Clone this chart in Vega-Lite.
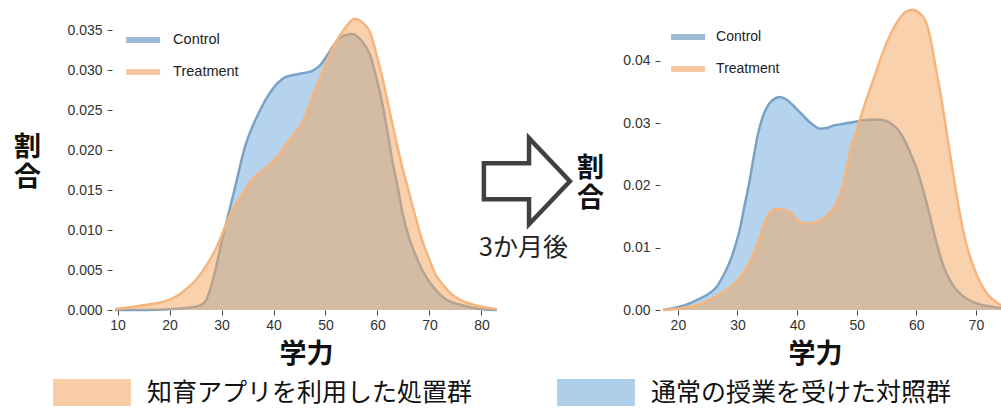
{
  "$schema": "https://vega.github.io/schema/vega-lite/v6.json",
  "background": "white",
  "padding": {"left": 13, "top": 4, "right": 0, "bottom": 0},
  "autosize": {"type": "pad"},
  "bounds": "flush",
  "spacing": 166,
  "config": {
    "view": {"stroke": null},
    "font": "Liberation Sans",
    "axis": {
      "domain": false, "grid": false,
      "labelFont": "Liberation Sans", "labelFontSize": 14, "labelColor": "#333",
      "tickColor": "#444", "tickSize": 5, "tickWidth": 1,
      "titleFont": "Noto Sans CJK JP", "titleFontSize": 27, "titleFontWeight": "bold", "titleColor": "#111"
    }
  },
  "datasets": {
    "before": [
      {"group": "Control", "x": 9.5, "d": 0}, {"group": "Control", "x": 15, "d": 0}, {"group": "Control", "x": 20, "d": 0.0001},
      {"group": "Control", "x": 22, "d": 0.0002}, {"group": "Control", "x": 24, "d": 0.0003}, {"group": "Control", "x": 26, "d": 0.0006},
      {"group": "Control", "x": 27, "d": 0.0012}, {"group": "Control", "x": 28, "d": 0.003}, {"group": "Control", "x": 29, "d": 0.0055},
      {"group": "Control", "x": 30, "d": 0.0085}, {"group": "Control", "x": 30.8, "d": 0.0106}, {"group": "Control", "x": 32.7, "d": 0.0156},
      {"group": "Control", "x": 34.6, "d": 0.0206}, {"group": "Control", "x": 36, "d": 0.023}, {"group": "Control", "x": 37.3, "d": 0.0248},
      {"group": "Control", "x": 38.5, "d": 0.0263}, {"group": "Control", "x": 39.8, "d": 0.0276}, {"group": "Control", "x": 41, "d": 0.0285},
      {"group": "Control", "x": 42.3, "d": 0.0291}, {"group": "Control", "x": 44, "d": 0.0294}, {"group": "Control", "x": 45.6, "d": 0.0296},
      {"group": "Control", "x": 47.5, "d": 0.0299}, {"group": "Control", "x": 49, "d": 0.0306}, {"group": "Control", "x": 50.5, "d": 0.032},
      {"group": "Control", "x": 51.9, "d": 0.0334}, {"group": "Control", "x": 53.5, "d": 0.0343}, {"group": "Control", "x": 55.2, "d": 0.0345},
      {"group": "Control", "x": 57, "d": 0.0336}, {"group": "Control", "x": 58.5, "d": 0.032}, {"group": "Control", "x": 60, "d": 0.0285},
      {"group": "Control", "x": 61, "d": 0.0256}, {"group": "Control", "x": 62, "d": 0.022}, {"group": "Control", "x": 62.9, "d": 0.0185},
      {"group": "Control", "x": 64, "d": 0.015}, {"group": "Control", "x": 64.8, "d": 0.0122}, {"group": "Control", "x": 66, "d": 0.0092},
      {"group": "Control", "x": 67.3, "d": 0.0069}, {"group": "Control", "x": 68.6, "d": 0.005}, {"group": "Control", "x": 70, "d": 0.0035},
      {"group": "Control", "x": 71.5, "d": 0.0023}, {"group": "Control", "x": 73, "d": 0.0014}, {"group": "Control", "x": 76.3, "d": 0.0006},
      {"group": "Control", "x": 79, "d": 0.0002}, {"group": "Control", "x": 83, "d": 0},
      {"group": "Treatment", "x": 9.5, "d": 0.0001}, {"group": "Treatment", "x": 12, "d": 0.0003}, {"group": "Treatment", "x": 15, "d": 0.0006},
      {"group": "Treatment", "x": 18, "d": 0.0009}, {"group": "Treatment", "x": 20, "d": 0.0013}, {"group": "Treatment", "x": 22, "d": 0.002},
      {"group": "Treatment", "x": 23.5, "d": 0.0028}, {"group": "Treatment", "x": 25, "d": 0.0037}, {"group": "Treatment", "x": 26.3, "d": 0.0048},
      {"group": "Treatment", "x": 27.5, "d": 0.006}, {"group": "Treatment", "x": 28.8, "d": 0.0075}, {"group": "Treatment", "x": 29.8, "d": 0.009},
      {"group": "Treatment", "x": 30.8, "d": 0.0106}, {"group": "Treatment", "x": 32, "d": 0.0124}, {"group": "Treatment", "x": 33.4, "d": 0.0139},
      {"group": "Treatment", "x": 34.7, "d": 0.0152}, {"group": "Treatment", "x": 36, "d": 0.0164}, {"group": "Treatment", "x": 37.6, "d": 0.0173},
      {"group": "Treatment", "x": 39.2, "d": 0.0181}, {"group": "Treatment", "x": 40.8, "d": 0.0192}, {"group": "Treatment", "x": 42.3, "d": 0.0206},
      {"group": "Treatment", "x": 44, "d": 0.022}, {"group": "Treatment", "x": 45.6, "d": 0.0235}, {"group": "Treatment", "x": 46.6, "d": 0.025},
      {"group": "Treatment", "x": 47.5, "d": 0.0268}, {"group": "Treatment", "x": 49, "d": 0.029}, {"group": "Treatment", "x": 50.5, "d": 0.0315},
      {"group": "Treatment", "x": 51.9, "d": 0.0334}, {"group": "Treatment", "x": 53.5, "d": 0.035}, {"group": "Treatment", "x": 55.6, "d": 0.0364},
      {"group": "Treatment", "x": 57, "d": 0.036}, {"group": "Treatment", "x": 58.5, "d": 0.0348}, {"group": "Treatment", "x": 59.8, "d": 0.032},
      {"group": "Treatment", "x": 61, "d": 0.0289}, {"group": "Treatment", "x": 62.3, "d": 0.025}, {"group": "Treatment", "x": 63.5, "d": 0.0214},
      {"group": "Treatment", "x": 64.8, "d": 0.0178}, {"group": "Treatment", "x": 66.2, "d": 0.0144}, {"group": "Treatment", "x": 67.5, "d": 0.0112},
      {"group": "Treatment", "x": 68.7, "d": 0.0085}, {"group": "Treatment", "x": 70, "d": 0.0063}, {"group": "Treatment", "x": 71.2, "d": 0.0044},
      {"group": "Treatment", "x": 72.8, "d": 0.003}, {"group": "Treatment", "x": 74.4, "d": 0.0019}, {"group": "Treatment", "x": 76.5, "d": 0.0011},
      {"group": "Treatment", "x": 78.8, "d": 0.0006}, {"group": "Treatment", "x": 81, "d": 0.0003}, {"group": "Treatment", "x": 83, "d": 0.0001}
    ],
    "after": [
      {"group": "Control", "x": 17.5, "d": 0}, {"group": "Control", "x": 19.2, "d": 0.0003}, {"group": "Control", "x": 21.5, "d": 0.0009},
      {"group": "Control", "x": 23.6, "d": 0.0018}, {"group": "Control", "x": 25, "d": 0.0025}, {"group": "Control", "x": 26.4, "d": 0.0036},
      {"group": "Control", "x": 27.6, "d": 0.0055}, {"group": "Control", "x": 28.7, "d": 0.0077}, {"group": "Control", "x": 29.6, "d": 0.0102},
      {"group": "Control", "x": 30.4, "d": 0.013}, {"group": "Control", "x": 31.2, "d": 0.0168}, {"group": "Control", "x": 32, "d": 0.0206},
      {"group": "Control", "x": 32.7, "d": 0.0245}, {"group": "Control", "x": 33.4, "d": 0.0281}, {"group": "Control", "x": 34.1, "d": 0.0306},
      {"group": "Control", "x": 34.8, "d": 0.0323}, {"group": "Control", "x": 35.9, "d": 0.0337}, {"group": "Control", "x": 37.1, "d": 0.0342},
      {"group": "Control", "x": 38.2, "d": 0.0338}, {"group": "Control", "x": 39.3, "d": 0.0329}, {"group": "Control", "x": 40.4, "d": 0.0318},
      {"group": "Control", "x": 41.5, "d": 0.0307}, {"group": "Control", "x": 42.7, "d": 0.0297}, {"group": "Control", "x": 43.8, "d": 0.0291},
      {"group": "Control", "x": 45, "d": 0.0292}, {"group": "Control", "x": 46, "d": 0.0296}, {"group": "Control", "x": 47.2, "d": 0.0298},
      {"group": "Control", "x": 49, "d": 0.0301}, {"group": "Control", "x": 51.5, "d": 0.0305}, {"group": "Control", "x": 53, "d": 0.0306},
      {"group": "Control", "x": 54.4, "d": 0.0305}, {"group": "Control", "x": 55.8, "d": 0.0299}, {"group": "Control", "x": 57.2, "d": 0.0286},
      {"group": "Control", "x": 58.3, "d": 0.0267}, {"group": "Control", "x": 59.4, "d": 0.0243}, {"group": "Control", "x": 60.3, "d": 0.022},
      {"group": "Control", "x": 61.1, "d": 0.0194}, {"group": "Control", "x": 62, "d": 0.0162}, {"group": "Control", "x": 62.8, "d": 0.013},
      {"group": "Control", "x": 63.6, "d": 0.0101}, {"group": "Control", "x": 64.5, "d": 0.0072}, {"group": "Control", "x": 65.5, "d": 0.005},
      {"group": "Control", "x": 66.6, "d": 0.0034}, {"group": "Control", "x": 68, "d": 0.0021}, {"group": "Control", "x": 69.5, "d": 0.0013},
      {"group": "Control", "x": 71, "d": 0.0008}, {"group": "Control", "x": 72.9, "d": 0.0005}, {"group": "Control", "x": 74.5, "d": 0.0003},
      {"group": "Treatment", "x": 17.5, "d": 0}, {"group": "Treatment", "x": 20, "d": 0.0002}, {"group": "Treatment", "x": 22.5, "d": 0.0006},
      {"group": "Treatment", "x": 24.7, "d": 0.0013}, {"group": "Treatment", "x": 27, "d": 0.0025}, {"group": "Treatment", "x": 29.2, "d": 0.004},
      {"group": "Treatment", "x": 31, "d": 0.006}, {"group": "Treatment", "x": 32.6, "d": 0.0088}, {"group": "Treatment", "x": 33.8, "d": 0.0118},
      {"group": "Treatment", "x": 34.8, "d": 0.0146}, {"group": "Treatment", "x": 35.6, "d": 0.0158}, {"group": "Treatment", "x": 36.4, "d": 0.0162},
      {"group": "Treatment", "x": 37.6, "d": 0.0161}, {"group": "Treatment", "x": 38.8, "d": 0.0157}, {"group": "Treatment", "x": 39.7, "d": 0.0148},
      {"group": "Treatment", "x": 40.5, "d": 0.0141}, {"group": "Treatment", "x": 41.8, "d": 0.0139}, {"group": "Treatment", "x": 43.2, "d": 0.0141},
      {"group": "Treatment", "x": 44.6, "d": 0.0148}, {"group": "Treatment", "x": 46, "d": 0.0162}, {"group": "Treatment", "x": 47, "d": 0.018},
      {"group": "Treatment", "x": 47.7, "d": 0.02}, {"group": "Treatment", "x": 48.9, "d": 0.0254}, {"group": "Treatment", "x": 50.2, "d": 0.0295},
      {"group": "Treatment", "x": 51.5, "d": 0.0334}, {"group": "Treatment", "x": 53, "d": 0.0375}, {"group": "Treatment", "x": 54.4, "d": 0.0414},
      {"group": "Treatment", "x": 55.8, "d": 0.0445}, {"group": "Treatment", "x": 57.2, "d": 0.0468}, {"group": "Treatment", "x": 58.3, "d": 0.0479},
      {"group": "Treatment", "x": 59.4, "d": 0.0482}, {"group": "Treatment", "x": 60.5, "d": 0.0477}, {"group": "Treatment", "x": 61.6, "d": 0.0463},
      {"group": "Treatment", "x": 62.5, "d": 0.043}, {"group": "Treatment", "x": 63.3, "d": 0.0387}, {"group": "Treatment", "x": 64.2, "d": 0.034},
      {"group": "Treatment", "x": 65, "d": 0.0291}, {"group": "Treatment", "x": 65.8, "d": 0.0242}, {"group": "Treatment", "x": 66.6, "d": 0.0194},
      {"group": "Treatment", "x": 67.4, "d": 0.015}, {"group": "Treatment", "x": 68.3, "d": 0.0109}, {"group": "Treatment", "x": 69.5, "d": 0.0072},
      {"group": "Treatment", "x": 70.7, "d": 0.0045}, {"group": "Treatment", "x": 72, "d": 0.0025}, {"group": "Treatment", "x": 73.4, "d": 0.0013},
      {"group": "Treatment", "x": 74.5, "d": 0.0006}
    ]
  },
  "resolve": {"scale": {"fill": "independent", "stroke": "independent"}},
  "hconcat": [
    {
      "width": 382, "height": 304,
      "data": {"name": "before"},
      "encoding": {
        "x": {"field": "x", "type": "quantitative",
          "scale": {"domain": [9.5, 83], "nice": false, "zero": false},
          "axis": {"values": [10, 20, 30, 40, 50, 60, 70, 80], "format": "d", "title": "学力",
            "titleX": 191, "titleY": 44, "titleAlign": "center", "titleBaseline": "middle", "labelPadding": 3}},
        "y": {"field": "d", "type": "quantitative",
          "scale": {"domain": [0, 0.038], "nice": false, "zero": true},
          "axis": {"values": [0, 0.005, 0.01, 0.015, 0.02, 0.025, 0.03, 0.035], "format": ".3f",
            "title": ["割", "合"], "titleAngle": 0, "titleX": -85, "titleY": 141, "titleAlign": "center",
            "titleBaseline": "middle", "titleLineHeight": 30, "offset": 3, "labelPadding": 5}}
      },
      "layer": [
        {"transform": [{"filter": "datum.group === 'Control'"}],
         "mark": {"type": "area", "interpolate": "monotone", "fillOpacity": 0.5},
         "encoding": {"fill": {"field": "group", "type": "nominal",
           "scale": {"domain": ["Treatment", "Control"], "range": ["#f3a35b", "#6ba7d9"]},
           "legend": {"orient": "none", "legendX": -50, "legendY": 359.5, "title": null, "direction": "horizontal",
             "symbolType": "M-1.44,-0.5L1.44,-0.5L1.44,0.5L-1.44,0.5Z", "symbolSize": 2916, "symbolOpacity": 0.5,
             "symbolStrokeWidth": 0, "labelFont": "Noto Sans CJK JP", "labelFontSize": 25, "labelColor": "#111",
             "labelOffset": 28, "labelLimit": 0, "columnPadding": 84, "padding": 0, "gridAlign": "none",
             "labelExpr": "datum.value === 'Treatment' ? '知育アプリを利用した処置群' : '通常の授業を受けた対照群'",
             "encode": {"symbols": {"update": {"opacity": {"value": 0.55}, "fillOpacity": {"value": 1}}}}}}}},
        {"transform": [{"filter": "datum.group === 'Control'"}],
         "mark": {"type": "line", "interpolate": "monotone", "strokeWidth": 2.5},
         "encoding": {"stroke": {"field": "group", "type": "nominal",
           "scale": {"domain": ["Control", "Treatment"], "range": ["#7aa2c6", "#f5b57f"]},
           "legend": {"orient": "none", "legendX": 15.6, "legendY": 21.5, "title": null, "direction": "vertical",
             "symbolType": "M-1.8,0L1.8,0", "symbolSize": 357, "symbolStrokeWidth": 6, "symbolFillColor": "transparent",
             "symbolOpacity": 0.75, "labelFont": "Liberation Sans", "labelFontSize": 14.5, "labelColor": "#222",
             "labelOffset": 17.5, "rowPadding": 7, "padding": 0}}}},
        {"transform": [{"filter": "datum.group === 'Treatment'"}],
         "mark": {"type": "area", "interpolate": "monotone", "fillOpacity": 0.5},
         "encoding": {"fill": {"field": "group", "type": "nominal"}}},
        {"transform": [{"filter": "datum.group === 'Treatment'"}],
         "mark": {"type": "line", "interpolate": "monotone", "strokeWidth": 2.5},
         "encoding": {"stroke": {"field": "group", "type": "nominal"}}},
        {"data": {"values": [{"x": 88.75, "d": 0.0161}]},
         "mark": {"type": "point", "shape": "M-1,-0.42L0.05,-0.42L0.05,-1L1,0L0.05,1L0.05,0.42L-1,0.42Z",
           "size": 7396, "filled": true, "fill": "white", "stroke": "#404040", "strokeWidth": 4.5, "opacity": 1, "strokeJoin": "miter"}},
        {"data": {"values": [{"x": 88.1, "d": 0.0077, "label": "3か月後"}]},
         "mark": {"type": "text", "font": "Noto Sans CJK JP", "fontSize": 25, "color": "#222", "align": "center", "baseline": "middle"},
         "encoding": {"text": {"field": "label"}}}
      ]
    },
    {
      "width": 340, "height": 304,
      "data": {"name": "after"},
      "encoding": {
        "x": {"field": "x", "type": "quantitative",
          "scale": {"domain": [17.5, 74.55], "nice": false, "zero": false},
          "axis": {"values": [20, 30, 40, 50, 60, 70], "format": "d", "title": "学力",
            "titleX": 152, "titleY": 44, "titleAlign": "center", "titleBaseline": "middle", "labelPadding": 3}},
        "y": {"field": "d", "type": "quantitative",
          "scale": {"domain": [0, 0.0488], "nice": false, "zero": true},
          "axis": {"values": [0, 0.01, 0.02, 0.03, 0.04], "format": ".2f",
            "title": ["割", "合"], "titleAngle": 0, "titleX": -70, "titleY": 162.5, "titleAlign": "center",
            "titleBaseline": "middle", "titleLineHeight": 30, "offset": 3, "labelPadding": 5}}
      },
      "layer": [
        {"transform": [{"filter": "datum.group === 'Control'"}],
         "mark": {"type": "area", "interpolate": "monotone", "fillOpacity": 0.5},
         "encoding": {"fill": {"field": "group", "type": "nominal",
           "scale": {"domain": ["Treatment", "Control"], "range": ["#f3a35b", "#6ba7d9"]}, "legend": null}}},
        {"transform": [{"filter": "datum.group === 'Control'"}],
         "mark": {"type": "line", "interpolate": "monotone", "strokeWidth": 2.5},
         "encoding": {"stroke": {"field": "group", "type": "nominal",
           "scale": {"domain": ["Control", "Treatment"], "range": ["#7aa2c6", "#f5b57f"]},
           "legend": {"orient": "none", "legendX": 12.6, "legendY": 18.5, "title": null, "direction": "vertical",
             "symbolType": "M-1.8,0L1.8,0", "symbolSize": 357, "symbolStrokeWidth": 6, "symbolFillColor": "transparent",
             "symbolOpacity": 0.75, "labelFont": "Liberation Sans", "labelFontSize": 14, "labelColor": "#222",
             "labelOffset": 15.5, "rowPadding": 7, "padding": 0}}}},
        {"transform": [{"filter": "datum.group === 'Treatment'"}],
         "mark": {"type": "area", "interpolate": "monotone", "fillOpacity": 0.5},
         "encoding": {"fill": {"field": "group", "type": "nominal", "legend": null}}},
        {"transform": [{"filter": "datum.group === 'Treatment'"}],
         "mark": {"type": "line", "interpolate": "monotone", "strokeWidth": 2.5},
         "encoding": {"stroke": {"field": "group", "type": "nominal"}}}
      ]
    }
  ]
}
